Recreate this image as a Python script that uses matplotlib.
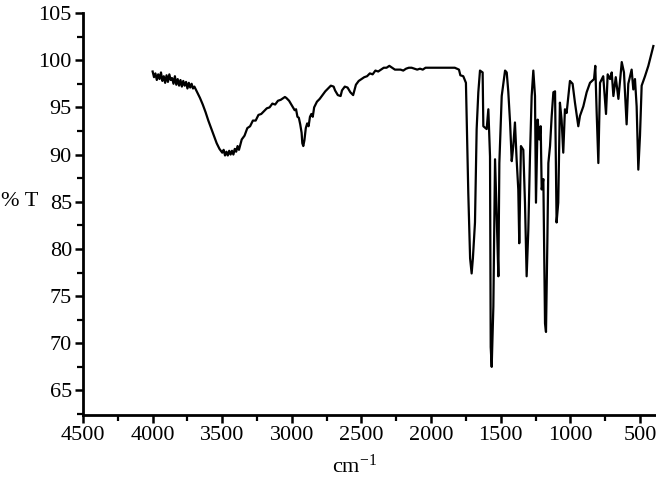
import matplotlib
matplotlib.use("Agg")
import matplotlib.pyplot as plt
from matplotlib.ticker import MultipleLocator

# wavenumber (cm-1) and transmittance (%T)
wavenumber = [
    4000, 3990, 3980, 3970, 3960, 3950, 3940, 3930, 3920, 3910, 3900, 3890, 3880, 3870, 3860,
    3850, 3840, 3830, 3820, 3810, 3800, 3790, 3780, 3770, 3760, 3750, 3740, 3730, 3720, 3710,
    3700, 3680, 3660, 3640, 3620, 3600, 3580, 3560, 3540, 3520, 3500, 3490, 3480, 3470, 3460,
    3450, 3440, 3430, 3420, 3410, 3400, 3390, 3380, 3360, 3340, 3320, 3300, 3280, 3260, 3240,
    3220, 3200, 3180, 3160, 3140, 3120, 3100, 3080, 3060, 3050, 3040, 3020, 3000, 2980, 2970,
    2960, 2950, 2940, 2930, 2925, 2918, 2910, 2900, 2890, 2880, 2870, 2860, 2850, 2840, 2820,
    2800, 2780, 2760, 2740, 2720, 2700, 2690, 2670, 2650, 2640, 2620, 2600, 2580, 2560, 2540,
    2520, 2500, 2480, 2460, 2440, 2420, 2400, 2380, 2360, 2340, 2320, 2300, 2280, 2260, 2240,
    2220, 2200, 2180, 2160, 2140, 2120, 2100, 2080, 2060, 2040, 2020, 2000, 1900, 1830, 1800,
    1790, 1769, 1750, 1745, 1733, 1720, 1709, 1700, 1685, 1673, 1661, 1649, 1630, 1625, 1601,
    1589, 1577, 1572, 1565, 1553, 1541, 1529, 1517, 1510, 1493, 1469, 1457, 1446, 1433, 1421,
    1410, 1398, 1386, 1374, 1367, 1355, 1338, 1326, 1314, 1302, 1290, 1278, 1266, 1254, 1247,
    1235, 1223, 1213, 1206, 1194, 1182, 1175, 1165, 1158, 1146, 1134, 1122, 1110, 1099, 1087,
    1075, 1063, 1051, 1039, 1027, 1003, 984, 967, 943, 931, 907, 883, 859, 830, 821,
    811, 799, 787, 764, 744, 732, 715, 703, 691, 674, 655, 631, 615, 596, 584,
    560, 548, 536, 524, 512, 500, 488, 464, 440, 416, 404,
]
transmittance = [
    98.8, 98.2, 98.6, 97.9, 98.5, 98.0, 98.7, 97.8, 98.3, 97.6, 98.4, 97.7, 98.5, 97.9, 98.1,
    97.5, 98.3, 97.4, 98.0, 97.3, 97.9, 97.2, 97.8, 97.3, 97.7, 97.0, 97.6, 97.1, 97.5, 97.0,
    97.2, 96.6, 96.0, 95.3, 94.5, 93.6, 92.8, 92.0, 91.2, 90.6, 90.2, 90.5, 89.9, 90.3, 89.9,
    90.4, 90.0, 90.4, 90.0, 90.6, 90.3, 90.9, 90.5, 91.6, 92.0, 92.8, 93.0, 93.6, 93.6, 94.2,
    94.3, 94.6, 94.9, 95.0, 95.4, 95.3, 95.7, 95.8, 96.0, 96.1, 96.0, 95.7, 95.2, 94.7, 94.8,
    94.0, 93.9, 93.2, 92.3, 91.2, 90.9, 91.5, 92.8, 93.3, 93.0, 94.0, 94.3, 94.0, 95.0, 95.6,
    95.9, 96.3, 96.7, 97.0, 97.3, 97.2, 96.8, 96.3, 96.2, 96.8, 97.2, 97.1, 96.6, 96.3, 97.4,
    97.8, 98.0, 98.2, 98.3, 98.6, 98.5, 98.9, 98.8, 99.0, 99.2, 99.2, 99.4, 99.2, 99.0, 99.0,
    99.0, 98.9, 99.1, 99.2, 99.2, 99.1, 99.0, 99.1, 99.0, 99.2, 99.2, 99.2, 99.2, 99.2, 99.0,
    98.4, 98.3, 97.6, 94.1, 85.9, 79.0, 77.4, 79.0, 82.8, 92.7, 96.6, 98.9, 98.7, 93.0, 92.7,
    94.8, 89.8, 69.6, 67.5, 73.9, 89.5, 83.5, 77.1, 89.1, 96.2, 98.9, 98.7, 96.7, 93.4, 89.3,
    90.9, 93.4, 89.5, 86.3, 80.6, 90.9, 90.5, 84.9, 77.1, 82.0, 89.8, 96.2, 98.9, 96.2, 84.9,
    93.7, 91.6, 93.0, 86.3, 87.4, 72.1, 71.2, 81.0, 89.1, 90.9, 94.1, 96.6, 96.7, 82.8, 84.9,
    95.5, 93.7, 90.2, 94.8, 94.4, 97.8, 97.5, 95.5, 93.0, 94.1, 95.1, 96.6, 97.6, 98.0, 99.4,
    94.4, 89.1, 97.6, 98.3, 94.3, 98.5, 98.0, 98.7, 96.2, 98.2, 95.9, 99.8, 98.7, 93.2, 97.5,
    99.0, 96.9, 98.0, 95.1, 88.4, 92.0, 97.3, 98.3, 99.4, 100.8, 101.5,
]

x_ticks = [4500, 4000, 3500, 3000, 2500, 2000, 1500, 1000, 500]
y_ticks = [65, 70, 75, 80, 85, 90, 95, 100, 105]

plt.rcParams['font.family'] = ['Liberation Serif', 'DejaVu Serif']
plt.rcParams['mathtext.default'] = 'regular'

fig = plt.figure(figsize=(6.56, 4.94), dpi=100)
ax = fig.add_axes([83/656, 1 - 415/494, 1 - 83/656, (415 - 13)/494])

ax.plot(wavenumber, transmittance, color='black', lw=1.6)

ax.set_xlim(4500, 385)
ax.set_ylim(62.4, 105)
ax.set_xticks(x_ticks)
ax.set_yticks(y_ticks)
ax.xaxis.set_minor_locator(MultipleLocator(250))
ax.yaxis.set_minor_locator(MultipleLocator(2.5))

for side in ['top', 'right']:
    ax.spines[side].set_visible(False)
for side in ['left', 'bottom']:
    ax.spines[side].set_linewidth(2.0)

ax.tick_params(which='major', direction='out', length=6, width=1.8,
               labelsize=16, pad=2, colors='black')
ax.tick_params(which='minor', direction='out', length=4, width=1.6)

fig.text(20/656, 1 - 202/494, '% T', fontsize=16, ha='center', va='center')
fig.text(355/656, 1 - 466/494, 'cm$^{-1}$', fontsize=16, ha='center', va='center')

fig.savefig('out.png', dpi=100)
